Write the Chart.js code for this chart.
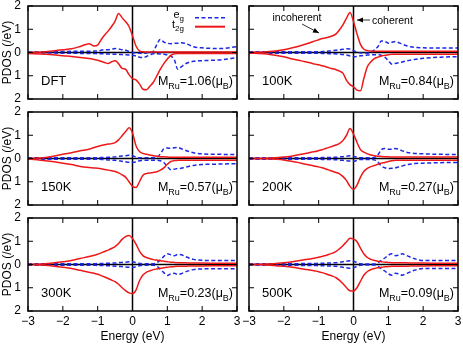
<!DOCTYPE html>
<html>
<head>
<meta charset="utf-8">
<script src="https://cdn.jsdelivr.net/npm/chart.js@4.4.0/dist/chart.umd.min.js"></script>
<style>
  body { margin: 0; background: #fff; }
  #wrap { position: relative; width: 463px; height: 345px; overflow: hidden; background: #fff; }
  #wrap canvas { position: absolute; }
</style>
</head>
<body>
<div id="wrap"></div>
<script>
// energy grid (eV), shared by all panels
const energy = [-3, -2.5, -2, -1.75, -1.5, -1.25,
  -1.1, -1, -0.9, -0.8, -0.7, -0.6, -0.5, -0.4, -0.3, -0.2, -0.1,
  0,
  0.1, 0.2, 0.3, 0.4, 0.5, 0.6, 0.7, 0.8, 0.9, 1, 1.1, 1.2, 1.3, 1.4, 1.5,
  1.75, 2, 2.5, 3];

const panelLabels = ['DFT', '100K', '150K', '200K', '300K', '500K'];
const moments = ['1.06', '0.84', '0.57', '0.27', '0.23', '0.09'];
const xTicks = [-3, -2, -1, 0, 1, 2, 3];
const yTicks = [-2, -1, 0, 1, 2];

// DFT
const dftT2gUp = [0.00, 0.03, 0.12, 0.16, 0.26, 0.38,
  0.28, 0.32, 0.55, 0.75, 0.92, 1.12, 1.35, 1.68, 1.50, 1.33, 1.12,
  0.72,
  0.28, 0.07, 0.03, 0.02, 0.02, 0.02, 0.02, 0.02, 0.02, 0.02, 0.02, 0.02, 0.02, 0.02, 0.02,
  0.02, 0.02, 0.02, 0.02];
const dftT2gDn = [-0.04, -0.07, -0.14, -0.17, -0.21, -0.26,
  -0.30, -0.33, -0.38, -0.43, -0.47, -0.40, -0.36, -0.48, -0.68, -0.72, -0.95,
  -1.12,
  -1.18, -1.35, -1.58, -1.60, -1.45, -1.28, -1.00, -0.72, -0.48, -0.28, -0.12, -0.06, -0.04, -0.04, -0.04,
  -0.04, -0.04, -0.04, -0.04];
const dftEgUp = [0.02, 0.03, 0.04, 0.05, 0.05, 0.05,
  0.06, 0.07, 0.10, 0.12, 0.12, 0.14, 0.17, 0.15, 0.12, 0.10, 0.05,
  0.00,
  -0.02, -0.03, -0.04, -0.02, 0.00, 0.05, 0.35, 0.57, 0.45, 0.40, 0.38, 0.40, 0.40, 0.42, 0.40,
  0.25, 0.20, 0.17, 0.25];
const dftEgDn = [-0.02, -0.02, -0.03, -0.03, -0.04, -0.04,
  -0.04, -0.05, -0.05, -0.06, -0.06, -0.07, -0.07, -0.08, -0.09, -0.10, -0.11,
  -0.12,
  -0.15, -0.20, -0.22, -0.17, -0.10, -0.05, -0.05, -0.06, -0.08, -0.10, -0.15, -0.30, -0.72, -0.62, -0.50,
  -0.38, -0.35, -0.32, -0.22];

// 100K
const k100T2gUp = [0.00, 0.03, 0.12, 0.20, 0.30, 0.42,
  0.50, 0.55, 0.60, 0.63, 0.67, 0.72, 0.80, 0.98, 1.20, 1.48, 1.72,
  1.33,
  0.80, 0.35, 0.14, 0.08, 0.06, 0.05, 0.05, 0.05, 0.05, 0.05, 0.05, 0.05, 0.05, 0.05, 0.05,
  0.05, 0.05, 0.05, 0.05];
const k100T2gDn = [-0.02, -0.06, -0.18, -0.28, -0.36, -0.44,
  -0.50, -0.53, -0.57, -0.61, -0.66, -0.70, -0.74, -0.80, -0.90, -1.20, -1.38,
  -1.48,
  -1.62, -1.65, -1.10, -0.60, -0.40, -0.26, -0.20, -0.15, -0.12, -0.10, -0.08, -0.08, -0.08, -0.08, -0.08,
  -0.08, -0.08, -0.08, -0.08];
const k100EgUp = [0.03, 0.03, 0.03, 0.03, 0.03, 0.03,
  0.03, 0.03, 0.04, 0.05, 0.06, 0.08, 0.10, 0.12, 0.14, 0.16, 0.15,
  0.08,
  0.02, -0.02, -0.02, -0.03, 0.00, 0.12, 0.25, 0.50, 0.48, 0.40, 0.44, 0.47, 0.42, 0.36, 0.30,
  0.22, 0.20, 0.19, 0.19];
const k100EgDn = [-0.03, -0.03, -0.03, -0.03, -0.03, -0.03,
  -0.03, -0.03, -0.04, -0.04, -0.05, -0.05, -0.06, -0.07, -0.09, -0.11, -0.15,
  -0.18,
  -0.17, -0.14, -0.12, -0.11, -0.10, -0.10, -0.10, -0.12, -0.20, -0.35, -0.50, -0.47, -0.44, -0.41, -0.37,
  -0.30, -0.25, -0.20, -0.18];

// 150K
const k150T2gUp = [0.00, 0.04, 0.18, 0.25, 0.33, 0.40,
  0.47, 0.52, 0.56, 0.59, 0.62, 0.64, 0.68, 0.80, 0.98, 1.15, 1.32,
  1.10,
  0.55, 0.30, 0.22, 0.18, 0.15, 0.12, 0.10, 0.08, 0.07, 0.06, 0.05, 0.05, 0.05, 0.05, 0.05,
  0.05, 0.05, 0.05, 0.05];
const k150T2gDn = [-0.02, -0.10, -0.20, -0.26, -0.34, -0.39,
  -0.41, -0.42, -0.44, -0.47, -0.50, -0.53, -0.56, -0.62, -0.70, -0.80, -1.00,
  -1.20,
  -1.25, -1.00, -0.72, -0.65, -0.62, -0.60, -0.57, -0.50, -0.40, -0.25, -0.13, -0.09, -0.08, -0.07, -0.07,
  -0.07, -0.07, -0.07, -0.07];
const k150EgUp = [0.03, 0.03, 0.03, 0.03, 0.03, 0.03,
  0.03, 0.03, 0.04, 0.04, 0.05, 0.06, 0.07, 0.09, 0.11, 0.12, 0.14,
  0.12,
  0.06, 0.03, 0.03, 0.03, 0.03, 0.03, 0.05, 0.20, 0.42, 0.45, 0.44, 0.46, 0.47, 0.42, 0.36,
  0.25, 0.20, 0.18, 0.17];
const k150EgDn = [-0.03, -0.03, -0.03, -0.03, -0.03, -0.03,
  -0.03, -0.03, -0.04, -0.05, -0.06, -0.07, -0.08, -0.10, -0.12, -0.14, -0.16,
  -0.17,
  -0.15, -0.10, -0.07, -0.07, -0.07, -0.07, -0.07, -0.10, -0.17, -0.35, -0.48, -0.46, -0.43, -0.42, -0.38,
  -0.30, -0.26, -0.24, -0.22];

// 200K
const k200T2gUp = [0.00, 0.01, 0.06, 0.11, 0.18, 0.26,
  0.30, 0.34, 0.38, 0.43, 0.48, 0.53, 0.58, 0.65, 0.78, 1.00, 1.29,
  1.05,
  0.70, 0.38, 0.27, 0.20, 0.15, 0.12, 0.10, 0.09, 0.08, 0.07, 0.06, 0.06, 0.06, 0.06, 0.06,
  0.06, 0.06, 0.06, 0.06];
const k200T2gDn = [0.00, -0.01, -0.06, -0.13, -0.20, -0.28,
  -0.33, -0.36, -0.40, -0.45, -0.50, -0.55, -0.60, -0.66, -0.78, -0.95, -1.20,
  -1.33,
  -1.15, -0.80, -0.55, -0.42, -0.35, -0.30, -0.25, -0.20, -0.17, -0.13, -0.10, -0.08, -0.07, -0.07, -0.07,
  -0.07, -0.07, -0.07, -0.07];
const k200EgUp = [0.03, 0.03, 0.03, 0.03, 0.03, 0.03,
  0.03, 0.03, 0.04, 0.04, 0.04, 0.05, 0.05, 0.07, 0.08, 0.10, 0.12,
  0.10,
  0.05, 0.03, 0.03, 0.03, 0.03, 0.05, 0.15, 0.38, 0.43, 0.40, 0.40, 0.43, 0.40, 0.33, 0.28,
  0.22, 0.20, 0.18, 0.17];
const k200EgDn = [-0.03, -0.03, -0.03, -0.03, -0.03, -0.03,
  -0.03, -0.03, -0.04, -0.04, -0.04, -0.05, -0.05, -0.07, -0.08, -0.10, -0.11,
  -0.12,
  -0.08, -0.04, -0.04, -0.04, -0.04, -0.06, -0.15, -0.32, -0.40, -0.43, -0.42, -0.40, -0.36, -0.32, -0.28,
  -0.22, -0.20, -0.18, -0.17];

// 300K
const k300T2gUp = [0.00, 0.03, 0.12, 0.17, 0.26, 0.34,
  0.40, 0.44, 0.50, 0.56, 0.62, 0.69, 0.77, 0.90, 1.08, 1.20, 1.25,
  1.12,
  0.88, 0.58, 0.38, 0.30, 0.25, 0.21, 0.19, 0.16, 0.14, 0.12, 0.10, 0.09, 0.08, 0.07, 0.07,
  0.06, 0.06, 0.05, 0.05];
const k300T2gDn = [0.00, -0.03, -0.12, -0.17, -0.25, -0.33,
  -0.38, -0.42, -0.48, -0.54, -0.60, -0.67, -0.74, -0.85, -1.00, -1.12, -1.22,
  -1.25,
  -1.10, -0.70, -0.45, -0.33, -0.27, -0.22, -0.19, -0.16, -0.14, -0.12, -0.10, -0.09, -0.08, -0.07, -0.07,
  -0.06, -0.06, -0.05, -0.05];
const k300EgUp = [0.03, 0.03, 0.03, 0.03, 0.03, 0.03,
  0.03, 0.04, 0.04, 0.05, 0.05, 0.06, 0.06, 0.08, 0.09, 0.10, 0.12,
  0.12,
  0.08, 0.05, 0.03, 0.03, 0.03, 0.03, 0.08, 0.20, 0.35, 0.46, 0.42, 0.38, 0.43, 0.42, 0.35,
  0.22, 0.18, 0.17, 0.17];
const k300EgDn = [-0.03, -0.03, -0.03, -0.03, -0.03, -0.03,
  -0.03, -0.04, -0.04, -0.05, -0.05, -0.06, -0.07, -0.08, -0.09, -0.11, -0.12,
  -0.13,
  -0.09, -0.05, -0.03, -0.03, -0.03, -0.03, -0.08, -0.20, -0.35, -0.47, -0.40, -0.38, -0.43, -0.40, -0.33,
  -0.22, -0.19, -0.18, -0.18];

// 500K
const k500T2gUp = [0.00, 0.02, 0.08, 0.12, 0.18, 0.24,
  0.28, 0.31, 0.35, 0.39, 0.44, 0.49, 0.56, 0.68, 0.82, 0.98, 1.13,
  1.10,
  0.98, 0.70, 0.45, 0.30, 0.22, 0.17, 0.14, 0.12, 0.10, 0.09, 0.08, 0.08, 0.07, 0.07, 0.07,
  0.06, 0.06, 0.05, 0.05];
const k500T2gDn = [0.00, -0.02, -0.08, -0.12, -0.18, -0.24,
  -0.28, -0.31, -0.35, -0.40, -0.45, -0.50, -0.57, -0.68, -0.83, -1.00, -1.13,
  -1.14,
  -1.00, -0.72, -0.45, -0.30, -0.22, -0.17, -0.14, -0.12, -0.10, -0.09, -0.08, -0.08, -0.07, -0.07, -0.07,
  -0.06, -0.06, -0.05, -0.05];
const k500EgUp = [0.03, 0.03, 0.03, 0.03, 0.04, 0.04,
  0.04, 0.05, 0.05, 0.06, 0.06, 0.07, 0.08, 0.10, 0.12, 0.14, 0.16,
  0.14,
  0.08, 0.03, 0.02, 0.02, 0.02, 0.02, 0.08, 0.18, 0.28, 0.40, 0.46, 0.38, 0.40, 0.46, 0.40,
  0.25, 0.17, 0.17, 0.17];
const k500EgDn = [-0.03, -0.03, -0.03, -0.03, -0.04, -0.04,
  -0.04, -0.05, -0.05, -0.06, -0.06, -0.07, -0.08, -0.10, -0.12, -0.14, -0.16,
  -0.14,
  -0.08, -0.03, -0.02, -0.02, -0.02, -0.02, -0.08, -0.18, -0.28, -0.40, -0.46, -0.38, -0.40, -0.46, -0.40,
  -0.25, -0.17, -0.17, -0.17];

const t2gUp = [dftT2gUp, k100T2gUp, k150T2gUp, k200T2gUp, k300T2gUp, k500T2gUp];
const t2gDn = [dftT2gDn, k100T2gDn, k150T2gDn, k200T2gDn, k300T2gDn, k500T2gDn];
const egUp = [dftEgUp, k100EgUp, k150EgUp, k200EgUp, k300EgUp, k500EgUp];
const egDn = [dftEgDn, k100EgDn, k150EgDn, k200EgDn, k300EgDn, k500EgDn];

const FONT = '"Liberation Sans", Arial, Helvetica, sans-serif';
Chart.defaults.font.family = FONT;
Chart.defaults.font.size = 12;
Chart.defaults.color = '#000';

const RED = 'rgb(238, 24, 24)';
const BLUE = 'rgb(28, 40, 228)';
const PLOT_TOP = [6, 112, 218];
const PLOT_H = 93;

function pts(arr) {
  return energy.map((e, i) => ({ x: e, y: arr[i] }));
}

function minus(v) {
  return v < 0 ? '\u2212' + Math.abs(v) : String(v);
}

// text with subscripts, parts = [[text, isSub], ...]
function richText(ctx, parts, x, y, size, align) {
  const big = size + 'px ' + FONT;
  const small = Math.round(size * 0.7) + 'px ' + FONT;
  let w = 0;
  parts.forEach(p => { ctx.font = p[1] ? small : big; w += ctx.measureText(p[0]).width; });
  let cx = align === 'right' ? x - w : x;
  ctx.textAlign = 'left';
  ctx.textBaseline = 'alphabetic';
  parts.forEach(p => {
    ctx.font = p[1] ? small : big;
    ctx.fillText(p[0], cx, p[1] ? y + size * 0.28 : y);
    cx += ctx.measureText(p[0]).width;
  });
}

function arrow(ctx, x1, y1, x2, y2) {
  const ang = Math.atan2(y2 - y1, x2 - x1), L = 6, W = 2.5;
  ctx.beginPath(); ctx.moveTo(x1, y1); ctx.lineTo(x2, y2); ctx.stroke();
  ctx.beginPath();
  ctx.moveTo(x2, y2);
  ctx.lineTo(x2 - L * Math.cos(ang) + W * Math.sin(ang), y2 - L * Math.sin(ang) - W * Math.cos(ang));
  ctx.lineTo(x2 - L * Math.cos(ang) - W * Math.sin(ang), y2 - L * Math.sin(ang) + W * Math.cos(ang));
  ctx.closePath(); ctx.fill();
}

const deco = {
  id: 'deco',
  beforeDatasetsDraw(chart) {
    const { ctx, chartArea: a, scales: { x, y } } = chart;
    const x0 = x.getPixelForValue(0), y0 = y.getPixelForValue(0);
    ctx.save();
    ctx.strokeStyle = '#000';
    ctx.lineWidth = 1.5;
    ctx.beginPath();
    ctx.moveTo(a.left, y0); ctx.lineTo(a.right, y0);
    ctx.moveTo(x0, a.top); ctx.lineTo(x0, a.bottom);
    ctx.stroke();
    ctx.restore();
  },
  afterDatasetsDraw(chart, args, opts) {
    const { ctx, chartArea: a, scales: { x, y } } = chart;
    ctx.save();
    ctx.strokeStyle = '#000';
    ctx.fillStyle = '#000';
    // inner ticks
    ctx.lineWidth = 1;
    ctx.beginPath();
    xTicks.forEach(v => {
      const px = x.getPixelForValue(v);
      ctx.moveTo(px, a.top); ctx.lineTo(px, a.top + 5);
      ctx.moveTo(px, a.bottom); ctx.lineTo(px, a.bottom - 5);
    });
    yTicks.forEach(v => {
      const py = y.getPixelForValue(v);
      ctx.moveTo(a.left, py); ctx.lineTo(a.left + 5, py);
      ctx.moveTo(a.right, py); ctx.lineTo(a.right - 5, py);
    });
    ctx.stroke();
    // frame
    ctx.lineWidth = 1.5;
    ctx.strokeRect(a.left, a.top, a.right - a.left, a.bottom - a.top);

    // panel label and moment
    richText(ctx, [[opts.label, false]], a.left + 13, a.bottom - 14, 13, 'left');
    richText(ctx, [['M', false], ['Ru', true], ['=' + opts.moment + '(\u03bc', false], ['B', true], [')', false]],
      a.right - 4, a.bottom - 14, 12.5, 'right');

    if (opts.legend) {
      richText(ctx, [['e', false], ['g', true]], a.left + 156, a.top + 12.3, 11, 'right');
      richText(ctx, [['t', false], ['2g', true]], a.left + 156, a.top + 21.7, 11, 'right');
      ctx.lineWidth = 1.5;
      ctx.strokeStyle = BLUE;
      ctx.setLineDash([4, 2.5]);
      ctx.beginPath(); ctx.moveTo(a.left + 167, a.top + 11.7); ctx.lineTo(a.left + 197, a.top + 11.7); ctx.stroke();
      ctx.setLineDash([]);
      ctx.strokeStyle = RED;
      ctx.lineWidth = 2;
      ctx.beginPath(); ctx.moveTo(a.left + 167, a.top + 20.7); ctx.lineTo(a.left + 197, a.top + 20.7); ctx.stroke();
    }

    if (opts.notes) {
      ctx.strokeStyle = '#000';
      ctx.fillStyle = '#000';
      ctx.lineWidth = 0.8;
      ctx.font = '10.5px ' + FONT;
      ctx.textBaseline = 'middle';
      ctx.textAlign = 'center';
      ctx.fillText('incoherent', a.left + 48, a.top + 12);
      ctx.textAlign = 'left';
      ctx.fillText('coherent', a.left + 123, a.top + 15);
      arrow(ctx, a.left + 53, a.top + 18, a.left + 70, a.top + 27);
      arrow(ctx, a.left + 121, a.top + 14, a.left + 108, a.top + 14);
    }
    ctx.restore();
  }
};

const wrap = document.getElementById('wrap');

panelLabels.forEach((label, i) => {
  const col = i % 2, row = Math.floor(i / 2);
  const last = row === 2;
  const left = col ? 240 : 0;
  const width = col ? 223 : 246;
  const top = PLOT_TOP[row] - 8;
  const height = last ? 345 - top : PLOT_H + 16;

  const cv = document.createElement('canvas');
  cv.width = width; cv.height = height;
  cv.style.left = left + 'px'; cv.style.top = top + 'px';
  cv.style.width = width + 'px'; cv.style.height = height + 'px';
  wrap.appendChild(cv);

  const line = (arr, color, dash) => ({
    data: pts(arr),
    borderColor: color,
    borderWidth: 1.5,
    borderDash: dash,
    pointRadius: 0,
    fill: false,
    cubicInterpolationMode: 'monotone'
  });

  new Chart(cv, {
    type: 'line',
    data: {
      datasets: [
        line(t2gUp[i], RED, []),
        line(t2gDn[i], RED, []),
        line(egUp[i], BLUE, [4, 2.5]),
        line(egDn[i], BLUE, [4, 2.5])
      ]
    },
    options: {
      responsive: false,
      animation: false,
      devicePixelRatio: 1,
      layout: { padding: { left: col ? 9 : 0, right: col ? 5 : 9, top: 8, bottom: last ? 0 : 8 } },
      scales: {
        x: {
          type: 'linear', min: -3, max: 3, display: last,
          grid: { display: false, drawTicks: false }, border: { display: false },
          ticks: { stepSize: 1, padding: 3, maxRotation: 0, autoSkip: false, callback: minus },
          title: { display: true, text: 'Energy (eV)', padding: { top: 0, bottom: 1 } },
          afterFit: s => {
            s.paddingLeft = 0; s.paddingRight = 0;
            if (last) s.height = 34;
          }
        },
        y: {
          min: -2, max: 2, display: col === 0,
          grid: { display: false, drawTicks: false }, border: { display: false },
          ticks: { stepSize: 1, padding: 7, callback: v => String(Math.abs(v)) },
          title: { display: true, text: 'PDOS (/eV)', padding: { top: 0, bottom: 0 } },
          afterFit: s => {
            s.paddingTop = 0; s.paddingBottom = 0;
            if (col === 0) s.width = 28;
          }
        }
      },
      plugins: {
        legend: { display: false },
        tooltip: { enabled: false },
        deco: { label: label, moment: moments[i], legend: i === 0, notes: i === 1 }
      }
    },
    plugins: [deco]
  });
});
</script>
</body>
</html>
